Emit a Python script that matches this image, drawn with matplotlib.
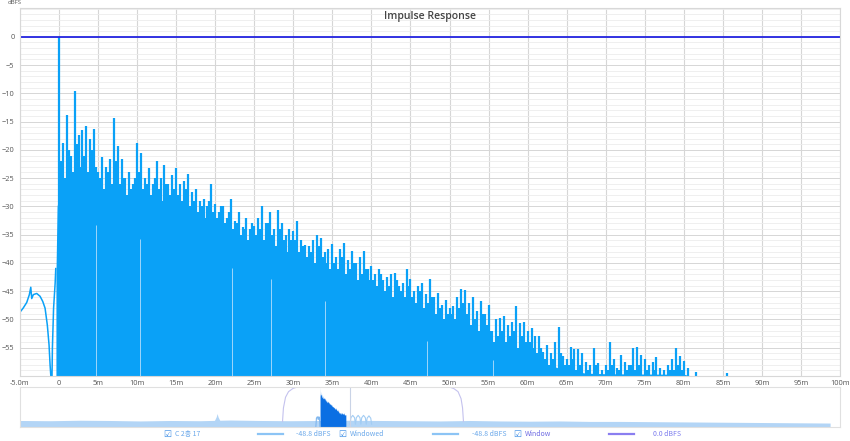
import numpy as np
import matplotlib
matplotlib.use("Agg")
import matplotlib.pyplot as plt

plt.rcParams['font.family'] = ['Open Sans', 'DejaVu Sans']

# ---- main view data (time in ms, level in dBFS) ----
# pre-impulse trace
pre_t = [-5.0, -4.6, -4.14, -3.8, -3.62, -3.5, -3.29, -2.86, -2.43, -2.09,
         -1.79, -1.5, -1.28, -1.15, -1.05, -0.9, -0.85, -0.7, -0.5, -0.42]
pre_db = [-48.7, -48.0, -47.0, -45.6, -44.3, -46.3, -45.6, -45.4, -45.9, -46.8,
          -48.0, -51.0, -54.5, -58.0, -60.0, -60.0, -55.0, -48.0, -43.6, -41.0]

# peak level of each 0.5 ms slot, 0 .. 86 ms
peak_t = np.arange(0, 86.01, 0.5)
peak_db = [
    0, -18.8, -13.8, -21, -9.5, -17.3, -16.5, -15.7, -18, -16.3,          # 0-4.5
    -24, -21.2, -23, -21.7, -14.3, -19.3, -21.6, -25, -24, -26,           # 5-9.5
    -18.8, -20.5, -25, -23.2, -26, -21.9, -25, -22.6, -26, -24.5,         # 10-14.5
    -23.2, -26, -25.5, -24.2, -27.5, -27, -29, -28.6, -30, -26,           # 15-19.5
    -29.5, -31, -30, -32, -28.6, -32.5, -31, -33.6, -32, -34,             # 20-24.5
    -33.4, -32, -30, -33, -31, -34, -30.6, -33, -35, -34,                 # 25-29.5
    -34.4, -32.5, -36, -36.8, -37, -36, -35, -35.5, -38, -37.5,           # 30-34.5
    -36.7, -39, -37.5, -36.5, -39.5, -37.8, -40, -39, -37.9, -41,         # 35-39.5
    -40.5, -42, -41, -43, -42.5, -42, -41.8, -44, -43.5, -41,             # 40-44.5
    -42.9, -45, -44, -43.5, -45.5, -42.9, -46, -45.3, -47.5, -46.5,       # 45-49.5
    -48, -47.6, -46, -44.6, -44.8, -47, -46, -48.5, -46.8, -49,           # 50-54.5
    -47.4, -52, -50, -49.8, -49.3, -51, -50.5, -47.7, -50.6, -50.5,       # 55-59.5
    -52, -51.5, -53, -52.9, -55.7, -54.5, -56, -54, -51.3, -56.5,         # 60-64.5
    -57, -54.8, -55.2, -55.3, -56, -57.5, -58, -55, -57.7, -59,           # 65-69.5
    -58, -54, -57, -58.5, -56.3, -57.5, -58, -55, -54.8, -56.3,           # 70-74.5
    -57, -58, -57.5, -56.6, -58.5, -59, -58, -57, -55.1, -56.4,           # 75-79.5
    -57.3, -58.6, -60, -59.3, -60, -60, -60, -60, -60, -60,               # 80-84.5
    -60, -59.4, -60]                                                      # 85-86

# lower spikes in between, 0.25 .. 85.75 ms
mid_t = np.arange(0.25, 85.76, 0.5)
mid_db = [
    -22, -25, -20, -24, -19, -23, -21, -24, -20, -23,
    -25, -27, -24, -26, -22, -26, -25, -28, -27, -25,
    -24, -27, -26, -28, -25, -27, -29, -26, -28, -27,
    -28, -29, -27, -30, -29, -31, -30, -32, -29, -31,
    -32, -30, -33, -31, -34, -33, -35, -34, -36, -33,
    -35, -34, -36, -33, -35, -37, -34, -36, -38, -36,
    -36, -38, -37, -39, -38, -40, -37, -39, -40, -41,
    -40, -41, -39, -42, -41, -40, -43, -42, -41, -43,
    -43, -44, -42, -45, -44, -46, -43, -45, -46, -44,
    -46, -47, -45, -48, -47, -46, -49, -48, -50, -49,
    -49, -50, -48, -47, -49, -51, -50, -52, -49, -51,
    -52, -54, -53, -52, -54, -53, -52, -55, -53, -54,
    -54, -55, -56, -55, -57, -58, -57, -59, -56, -58,
    -58, -57, -59, -58, -60, -59, -60, -58, -60, -60,
    -59, -58, -60, -59, -60, -59, -58, -59, -58, -60,
    -59, -60, -59, -60, -60, -60, -59, -59, -58, -59,
    -60, -60, -60, -60, -60, -60, -60, -60, -60, -60,
    -60, -60]

# solid body under the spikes
body_t = [-0.4, -0.25, 0, 2.5, 5, 7.5, 10, 12.5, 15, 17.5, 20, 22.5, 25, 27.5,
          30, 32.5, 35, 37.5, 40, 42.5, 45, 47.5, 50, 52.5, 55, 57.5, 60,
          62.5, 65, 67.5, 70, 80, 81]
body_db = [-42, -30, -28, -30, -32, -33, -34, -35.5, -36.5, -37.5, -38.5,
           -39.5, -40.5, -41.5, -42.5, -44, -46, -48, -49.5, -50.5, -51.5,
           -52.5, -53.5, -54.5, -55.5, -56, -57, -58, -59, -59.5, -59.6,
           -59.7, -60]

# thin dips in the solid part
gap_t = [4.7, 10.4, 22.2, 27.1, 34.0, 47.1, 55.6]

# ---- overview strip data ----
noise_t = np.arange(-1000, 1701, 100)
noise_db = [-72, -72.5, -71.5, -72, -73, -72, -72.5, -71, -72, -72.5,
            -72, -71.5, -72, -72.5, -73, -72, -73, -73.5, -73, -74,
            -74, -74.5, -75, -75.5, -76, -76.5, -77, -77.5]
bump_t = [-352, -346, -343, -340, -334]
bump_db = [-72, -64, -57, -64, -72]

win_t = [-125, -122, -115, -105, -90, -75, 430, 445, 460, 470, 475, 478]
win_db = [-74, -45, -22, -10, -3, 0, 0, -3, -10, -25, -45, -74]

ripple_t = [100, 103, 109, 115, 118, 121, 127, 133, 136, 139, 145, 151,
            154, 157, 163, 169, 172]
ripple_db = [-80, -66, -61, -66, -80, -66, -61, -66, -80, -66, -61, -66,
             -80, -67, -62, -67, -80]

pre_ov_t = [-14, -12, -9, -6, -4, -2, -0.5]
pre_ov_db = [-86, -67, -64, -70, -64, -67, -86]

view_end = 100

spike_col = '#0aa1f7'
grid_major = '#d6d6d6'
grid_minor = '#ececec'
text_col = '#555555'

fig = plt.figure(figsize=(8.5, 4.41), dpi=100, facecolor='w')

# ________________________ main impulse view ________________________
ax = fig.add_axes([20/850, 1-376/441, 820/850, 368/441])
ax.set_xlim(-5, 100)
ax.set_ylim(-60, 5.1)
ax.set_yticks(np.arange(-55, 1, 5))
ax.set_yticks(np.arange(-60, 6, 1), minor=True)
ax.set_xticks(np.arange(-5, 101, 5))
xlabels = ['-5.0m', '0'] + ['%dm' % v for v in range(5, 101, 5)]
ax.set_xticklabels(xlabels)
ax.grid(True, which='minor', axis='y', color=grid_minor, lw=0.6)
ax.grid(True, which='major', axis='y', color=grid_major, lw=0.7)
ax.grid(True, which='major', axis='x', color=grid_major, lw=0.8)
ax.set_axisbelow(True)
ax.tick_params(which='both', length=0, labelsize=5.3, colors=text_col, pad=3)
ax.tick_params(axis='y', pad=4)
for s in ax.spines.values():
    s.set_color('#d8d8d8')
    s.set_linewidth(0.8)

ax.fill_between(body_t, -60, body_db, color=spike_col, lw=0)
ax.vlines(mid_t, -60, mid_db, color=spike_col, lw=1.6)
ax.vlines(peak_t, -60, peak_db, color=spike_col, lw=1.6)
ax.vlines(gap_t, -60, np.interp(gap_t, body_t, body_db) - 1.5,
          color='#9fd6fb', lw=0.7)
ax.plot(pre_t, pre_db, color=spike_col, lw=1.1)
ax.axhline(0, color='#2424e0', lw=1.3)

fig.text(430/850, 1-17/441, 'Impulse Response', ha='center', va='center',
         fontsize=7.6, fontweight='semibold', color='#444444')
fig.text(8/850, 1-3/441, 'dBFS', ha='left', va='center', fontsize=4.3,
         color=text_col)

# ________________________ overview strip ________________________
ov = fig.add_axes([20/850, 1-427/441, 820/850, 40/441])
ov.set_xlim(-1000, 1733)
ov.set_ylim(-86, 0)
ov.set_xticks([])
ov.set_yticks([])
for s in ov.spines.values():
    s.set_color('#e0e0e0')
    s.set_linewidth(0.8)

ov.fill_between(noise_t, -86, noise_db, color='#b3d5f6', lw=0)
ov.fill_between(bump_t, -86, bump_db, color='#b3d5f6', lw=0)
ov.plot(win_t, win_db, color='#c4c2ee', lw=0.8)
ov.plot(ripple_t, ripple_db, color='#a3cdf4', lw=0.8)
ov.plot(pre_ov_t, pre_ov_db, color='#7fb6ee', lw=0.8)
ov.fill_between(peak_t, -86, peak_db, color='#0b6fe3', lw=0)
ov.axvline(view_end, color='#c9d3e6', lw=0.8)

# ________________________ legend row ________________________
leg_y = 1 - 434/441
leg_font = ['Noto Sans CJK KR', 'DejaVu Sans']
light = '#6aa8ea'
purple = '#6f6be3'


def line_sample(x0, x1, col):
    fig.add_artist(plt.Line2D([x0/850, x1/850], [leg_y, leg_y], color=col,
                              lw=1.6, transform=fig.transFigure))


def checkbox(x):
    fig.text(x/850, leg_y, '\u2611', fontsize=6.5, color='#3f8fe6',
             ha='left', va='center', family='DejaVu Sans')


checkbox(163)
fig.text(175/850, leg_y, 'C 2층 17', fontsize=5, color=light, ha='left',
         va='center', family=leg_font)
line_sample(258, 283, '#8cc4f5')
fig.text(296/850, leg_y, '-48.8 dBFS', fontsize=5, color=light, ha='left',
         va='center', family=leg_font)
checkbox(338)
fig.text(350/850, leg_y, 'Windowed', fontsize=5, color=light, ha='left',
         va='center', family=leg_font)
line_sample(433, 458, '#8cc4f5')
fig.text(472/850, leg_y, '-48.8 dBFS', fontsize=5, color=light, ha='left',
         va='center', family=leg_font)
checkbox(513)
fig.text(525/850, leg_y, 'Window', fontsize=5, color=purple, ha='left',
         va='center', family=leg_font)
line_sample(609, 634, '#8a7ef0')
fig.text(653/850, leg_y, '0.0 dBFS', fontsize=5, color='#7c7cee', ha='left',
         va='center', family=leg_font)

fig.savefig('out.png', dpi=100, facecolor='w')
